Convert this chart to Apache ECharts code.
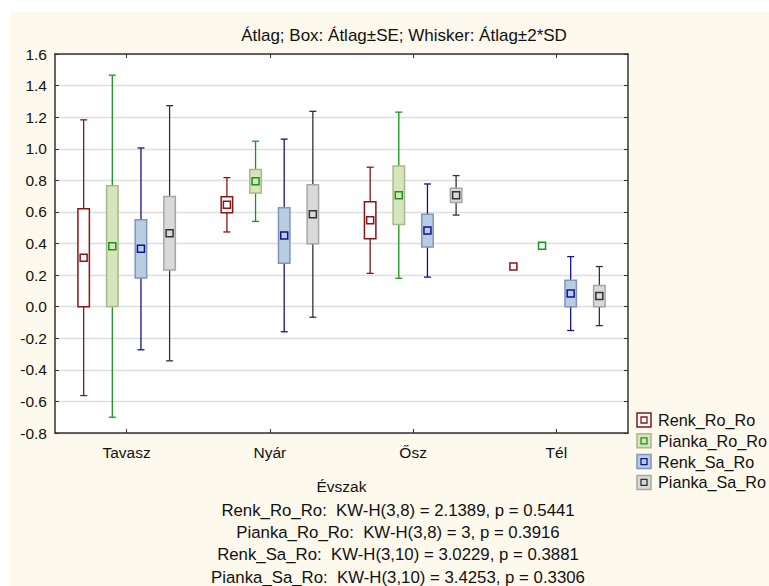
<!DOCTYPE html>
<html><head><meta charset="utf-8">
<script src="https://cdn.jsdelivr.net/npm/echarts@6/dist/echarts.min.js"></script>
<style>
html,body{margin:0;padding:0;background:#fff;width:769px;height:586px;overflow:hidden;}
#bg{position:absolute;left:10px;top:12px;width:759px;height:574px;background:#fef9ed;}
#c{position:absolute;left:0;top:0;width:769px;height:586px;}
</style>
</head><body><div id="bg"></div><div id="c"></div>
<script>
// ---- data ----
const categories = ['Tavasz', 'Nyár', 'Ősz', 'Tél'];
const seriesNames = ['Renk_Ro_Ro', 'Pianka_Ro_Ro', 'Renk_Sa_Ro', 'Pianka_Sa_Ro'];
const titleText = 'Átlag; Box: Átlag±SE; Whisker: Átlag±2*SD';
const xAxisName = 'Évszak';
const yMin = -0.8, yMax = 1.6, yStep = 0.2;

// mean, standard error (box half-height), 2*SD (whisker half-length); null = not shown
const renkRoRo_mean = [0.310, 0.645, 0.547, 0.255];
const renkRoRo_se   = [0.310, 0.051, 0.117, null];
const renkRoRo_sd2  = [0.873, 0.172, 0.336, null];

const piankaRoRo_mean = [0.383, 0.794, 0.706, 0.386];
const piankaRoRo_se   = [0.382, 0.075, 0.185, null];
const piankaRoRo_sd2  = [1.083, 0.254, 0.526, null];

const renkSaRo_mean = [0.366, 0.451, 0.482, 0.083];
const renkSaRo_se   = [0.185, 0.176, 0.104, 0.084];
const renkSaRo_sd2  = [0.639, 0.610, 0.295, 0.234];

const piankaSaRo_mean = [0.465, 0.585, 0.705, 0.067];
const piankaSaRo_se   = [0.233, 0.187, 0.045, 0.067];
const piankaSaRo_sd2  = [0.808, 0.652, 0.125, 0.187];

const statsLines = [
  'Renk_Ro_Ro:  KW-H(3,8) = 2.1389, p = 0.5441',
  'Pianka_Ro_Ro:  KW-H(3,8) = 3, p = 0.3916',
  'Renk_Sa_Ro:  KW-H(3,10) = 3.0229, p = 0.3881',
  'Pianka_Sa_Ro:  KW-H(3,10) = 3.4253, p = 0.3306'
];

// ---- styles ----
const FONT = '"Liberation Sans", Arial, sans-serif';
const styles = [
  {line: '#8b1414', fill: '#ffffff', border: '#8b1414'},
  {line: '#16961a', fill: '#d8e4bc', border: '#a9b98a'},
  {line: '#12128e', fill: '#b8cce4', border: '#7f96b8'},
  {line: '#333333', fill: '#d9d9d9', border: '#a6a6a6'}
];
const offsets = [-0.30, -0.10, 0.10, 0.30];
const allMeans = [renkRoRo_mean, piankaRoRo_mean, renkSaRo_mean, piankaSaRo_mean];
const allSe = [renkRoRo_se, piankaRoRo_se, renkSaRo_se, piankaSaRo_se];
const allSd2 = [renkRoRo_sd2, piankaRoRo_sd2, renkSaRo_sd2, piankaSaRo_sd2];

function buildData(si) {
  return categories.map((c, i) => {
    const m = allMeans[si][i];
    const se = allSe[si][i] == null ? 0 : allSe[si][i];
    const sd = allSd2[si][i] == null ? 0 : allSd2[si][i];
    return [i, m, m - sd, m - se, m + se, m + sd, allSe[si][i] == null ? 0 : 1, allSd2[si][i] == null ? 0 : 1];
  });
}

function makeRender(si) {
  const st = styles[si];
  return function (params, api) {
    const cat = api.value(0);
    const band = api.size([1, 0])[0];
    const off = offsets[si] * band;
    const p = (v) => api.coord([cat, v]);
    const cx = p(api.value(1))[0] + off;
    const ym = p(api.value(1))[1];
    const yW1 = p(api.value(2))[1], yB1 = p(api.value(3))[1], yB2 = p(api.value(4))[1], yW2 = p(api.value(5))[1];
    const hasBox = api.value(6) === 1, hasW = api.value(7) === 1;
    const boxHalf = band * 0.04;
    const capHalf = 3.5;
    const ch = [];
    if (hasW) {
      ch.push({type: 'line', shape: {x1: cx, y1: yW2, x2: cx, y2: yW1}, style: {stroke: st.line, lineWidth: 1.3}});
      ch.push({type: 'line', shape: {x1: cx - capHalf, y1: yW2, x2: cx + capHalf, y2: yW2}, style: {stroke: st.line, lineWidth: 1.3}});
      ch.push({type: 'line', shape: {x1: cx - capHalf, y1: yW1, x2: cx + capHalf, y2: yW1}, style: {stroke: st.line, lineWidth: 1.3}});
    }
    if (hasBox) {
      ch.push({type: 'rect', shape: {x: cx - boxHalf, y: yB2, width: boxHalf * 2, height: yB1 - yB2},
        style: {fill: st.fill, stroke: st.border, lineWidth: 1.5}});
    }
    ch.push({type: 'rect', shape: {x: cx - 3.5, y: ym - 3.5, width: 7, height: 7},
      style: {fill: 'none', stroke: st.line, lineWidth: 1.5}});
    return {type: 'group', children: ch};
  };
}

const chart = echarts.init(document.getElementById('c'), null, {renderer: 'svg'});

const graphics = [];
graphics.push({type: 'text', x: 404, y: 35, style: {text: titleText, font: '17px ' + FONT, fill: '#111', align: 'center', verticalAlign: 'middle'}});
statsLines.forEach((t, i) => {
  graphics.push({type: 'text', x: 398, y: 510 + i * 22.4, style: {text: t, font: '16.8px ' + FONT, fill: '#111', align: 'center', verticalAlign: 'middle'}});
});
seriesNames.forEach((n, i) => {
  const y = 420 + i * 20.8;
  graphics.push({type: 'rect', shape: {x: 637, y: y - 7, width: 14, height: 14}, style: {fill: styles[i].fill, stroke: styles[i].border, lineWidth: 1.5}});
  graphics.push({type: 'rect', shape: {x: 641, y: y - 3, width: 6, height: 6}, style: {fill: 'none', stroke: styles[i].line, lineWidth: 1.3}});
  graphics.push({type: 'text', x: 658, y: y, style: {text: n, font: '16.2px ' + FONT, fill: '#111', align: 'left', verticalAlign: 'middle'}});
});

const axisLineStyle = {color: '#333', width: 1.5};
chart.setOption({
  animation: false,
  backgroundColor: 'transparent',
  textStyle: {fontFamily: FONT},
  grid: {left: 55, top: 54, right: 141, bottom: 153, show: true, backgroundColor: '#ffffff', borderWidth: 0},
  xAxis: [
    {type: 'category', data: categories, position: 'bottom', boundaryGap: true,
     axisLine: {show: true, onZero: false, lineStyle: axisLineStyle},
     axisTick: {show: true, inside: true, alignWithLabel: true, length: 4, lineStyle: {color: '#333'}},
     axisLabel: {fontSize: 15.5, color: '#111', margin: 11, fontFamily: FONT},
     splitLine: {show: false},
     name: xAxisName, nameLocation: 'middle', nameGap: 45,
     nameTextStyle: {fontSize: 15.5, color: '#111', fontFamily: FONT}},
    {type: 'category', data: categories, position: 'top', boundaryGap: true,
     axisLine: {show: true, onZero: false, lineStyle: axisLineStyle},
     axisTick: {show: true, inside: true, alignWithLabel: true, length: 4, lineStyle: {color: '#333'}},
     axisLabel: {show: false}, splitLine: {show: false}}
  ],
  yAxis: [
    {type: 'value', min: yMin, max: yMax, interval: yStep, position: 'left',
     axisLine: {show: true, onZero: false, lineStyle: axisLineStyle},
     axisTick: {show: true, inside: true, length: 4, lineStyle: {color: '#333'}},
     axisLabel: {fontSize: 15.5, color: '#111', margin: 8, fontFamily: FONT, formatter: v => v.toFixed(1)},
     splitLine: {show: true, lineStyle: {color: '#dedede', width: 1.3}}},
    {type: 'value', min: yMin, max: yMax, interval: yStep, position: 'right',
     axisLine: {show: true, onZero: false, lineStyle: axisLineStyle},
     axisTick: {show: true, inside: true, length: 4, lineStyle: {color: '#333'}},
     axisLabel: {show: false}, splitLine: {show: false}}
  ],
  series: seriesNames.map((n, si) => ({
    name: n, type: 'custom', xAxisIndex: 0, yAxisIndex: 0,
    renderItem: makeRender(si), data: buildData(si),
    encode: {x: 0, y: [1, 2, 3, 4, 5]}, clip: false
  })),
  graphic: graphics
});
</script>
</body></html>
